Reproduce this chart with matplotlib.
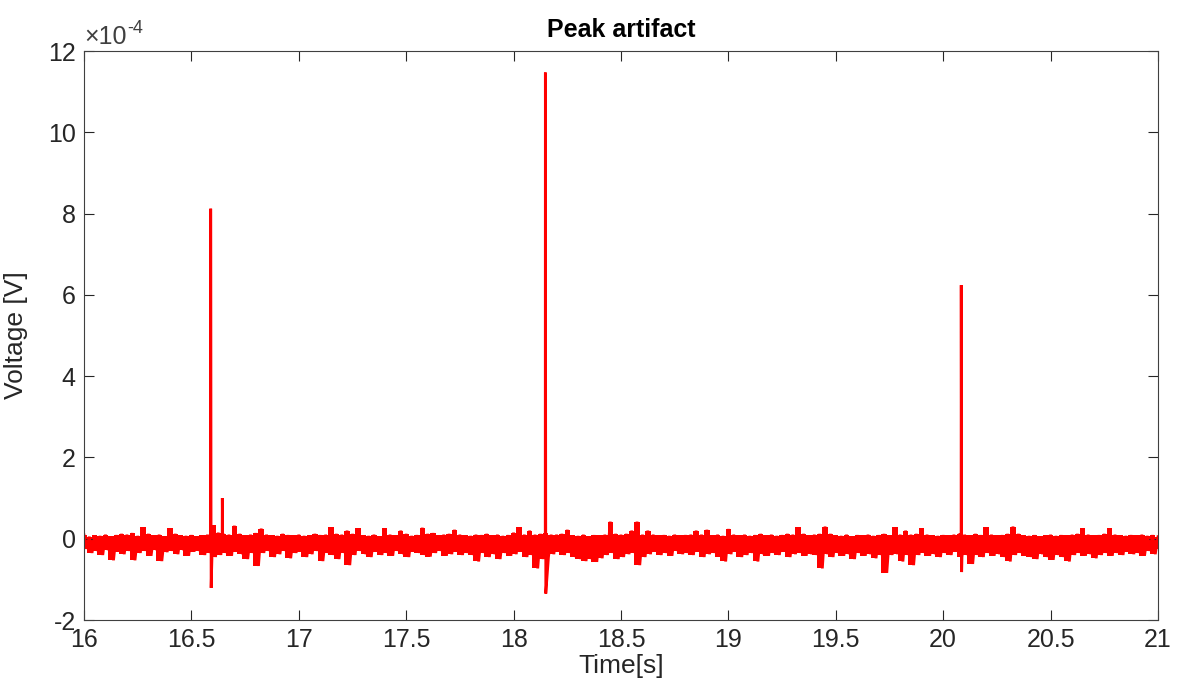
import matplotlib
matplotlib.use("Agg")
import matplotlib.pyplot as plt
import numpy as np

plt.rcParams['font.family'] = ['Liberation Sans', 'DejaVu Sans']
plt.rcParams['axes.unicode_minus'] = False

# ---- data (voltage in units of 1e-4 V) ----
t_start = 16.0
t_step = 0.025
# upper envelope of the noise band, every 25 ms from 16.0 s to 21.0 s
noise_hi = [
    0.10, 0.05, 0.08, 0.07, 0.10, 0.06, 0.09, 0.12,
    0.10, 0.14, 0.07, 0.28, 0.12, 0.08, 0.10, 0.06,
    0.26, 0.12, 0.08, 0.07, 0.09, 0.06, 0.08, 0.10,
    0.33, 0.15, 0.12, 0.10, 0.32, 0.12, 0.08, 0.10,
    0.14, 0.25, 0.10, 0.08, 0.07, 0.12, 0.09, 0.08,
    0.10, 0.07, 0.08, 0.12, 0.09, 0.10, 0.28, 0.12,
    0.10, 0.20, 0.12, 0.26, 0.08, 0.07, 0.10, 0.06,
    0.26, 0.10, 0.08, 0.20, 0.12, 0.07, 0.09, 0.27,
    0.12, 0.14, 0.08, 0.10, 0.12, 0.22, 0.10, 0.08,
    0.07, 0.10, 0.09, 0.12, 0.08, 0.10, 0.07, 0.09,
    0.15, 0.28, 0.10, 0.20, 0.10, 0.12, 0.15, 0.10,
    0.10, 0.12, 0.22, 0.08, 0.07, 0.10, 0.06, 0.09,
    0.08, 0.10, 0.42, 0.12, 0.10, 0.12, 0.20, 0.42,
    0.10, 0.20, 0.10, 0.08, 0.09, 0.07, 0.10, 0.08,
    0.09, 0.10, 0.20, 0.10, 0.22, 0.08, 0.10, 0.07,
    0.24, 0.10, 0.08, 0.10, 0.07, 0.09, 0.12, 0.08,
    0.10, 0.07, 0.09, 0.12, 0.10, 0.28, 0.12, 0.08,
    0.10, 0.12, 0.30, 0.12, 0.08, 0.07, 0.10, 0.06,
    0.09, 0.08, 0.10, 0.07, 0.09, 0.12, 0.08, 0.28,
    0.10, 0.20, 0.10, 0.12, 0.26, 0.10, 0.08, 0.07,
    0.09, 0.08, 0.10, 0.12, 0.10, 0.08, 0.12, 0.09,
    0.28, 0.10, 0.08, 0.09, 0.12, 0.30, 0.12, 0.08,
    0.07, 0.09, 0.06, 0.08, 0.10, 0.07, 0.09, 0.08,
    0.10, 0.12, 0.26, 0.10, 0.08, 0.09, 0.12, 0.26,
    0.10, 0.08, 0.07, 0.09, 0.08, 0.10, 0.07, 0.09,
    0.05,
]
# lower envelope of the noise band, same time grid (half a step later)
noise_lo = [
    -0.25, -0.35, -0.30, -0.40, -0.28, -0.53, -0.32, -0.38,
    -0.30, -0.53, -0.35, -0.30, -0.42, -0.28, -0.55, -0.33,
    -0.30, -0.38, -0.28, -0.42, -0.32, -0.30, -0.40, -0.35,
    -0.45, -0.40, -0.35, -0.42, -0.32, -0.38, -0.50, -0.35,
    -0.67, -0.35, -0.30, -0.45, -0.38, -0.30, -0.48, -0.35,
    -0.32, -0.45, -0.38, -0.30, -0.55, -0.35, -0.40, -0.50,
    -0.35, -0.65, -0.40, -0.30, -0.38, -0.45, -0.32, -0.40,
    -0.35, -0.42, -0.30, -0.38, -0.45, -0.32, -0.35, -0.40,
    -0.44, -0.35, -0.30, -0.42, -0.38, -0.32, -0.40, -0.35,
    -0.40, -0.56, -0.35, -0.45, -0.38, -0.50, -0.35, -0.42,
    -0.38, -0.32, -0.45, -0.40, -0.73, -0.50, -0.45, -0.38,
    -0.32, -0.40, -0.35, -0.45, -0.50, -0.55, -0.50, -0.57,
    -0.48, -0.40, -0.35, -0.50, -0.45, -0.38, -0.35, -0.65,
    -0.45, -0.38, -0.32, -0.40, -0.35, -0.42, -0.30, -0.38,
    -0.35, -0.40, -0.32, -0.45, -0.38, -0.35, -0.44, -0.56,
    -0.38, -0.32, -0.45, -0.40, -0.35, -0.56, -0.38, -0.42,
    -0.35, -0.40, -0.32, -0.45, -0.38, -0.35, -0.42, -0.38,
    -0.40, -0.73, -0.38, -0.45, -0.35, -0.42, -0.38, -0.50,
    -0.35, -0.42, -0.38, -0.48, -0.40, -0.84, -0.40, -0.38,
    -0.56, -0.40, -0.65, -0.40, -0.35, -0.42, -0.38, -0.45,
    -0.35, -0.40, -0.32, -0.45, -0.40, -0.62, -0.40, -0.45,
    -0.35, -0.42, -0.38, -0.45, -0.56, -0.40, -0.35, -0.42,
    -0.45, -0.50, -0.38, -0.45, -0.52, -0.40, -0.45, -0.56,
    -0.40, -0.35, -0.42, -0.38, -0.48, -0.40, -0.35, -0.42,
    -0.35, -0.40, -0.32, -0.38, -0.35, -0.42, -0.30, -0.38,
    -0.25,
]
# artifact peaks
spike_times = [16.590, 16.644, 18.148, 20.084]
spike_peaks = [8.12, 1.00, 11.47, 6.24]
spike_troughs = [-1.21, -0.25, -1.35, -0.82]

x_ticks = [16, 16.5, 17, 17.5, 18, 18.5, 19, 19.5, 20, 20.5, 21]
x_tick_labels = ["16", "16.5", "17", "17.5", "18", "18.5", "19", "19.5", "20", "20.5", "21"]
y_ticks = [-2, 0, 2, 4, 6, 8, 10, 12]

red = (1, 0, 0)

# ---- build the trace ----
n = len(noise_hi)
t_hi = t_start + t_step * np.arange(n)
t_lo = t_hi + t_step / 2
pts = []
for a, b, c, d in zip(t_hi, noise_hi, t_lo, noise_lo):
    pts.append((a, b))
    if c <= 21.0:
        pts.append((c, d))
for st, sp, tr in zip(spike_times, spike_peaks, spike_troughs):
    pts.append((st - 0.0005, 0.05))
    pts.append((st, sp))
    pts.append((st + 0.002, tr))
pts.sort(key=lambda p: p[0])
tt = np.array([p[0] for p in pts])
vv = np.array([p[1] for p in pts])

# ---- plot ----
fig = plt.figure(figsize=(11.81, 6.95), dpi=100)
ax = fig.add_axes([0.0711, 0.1079, 0.9094, 0.8187])
# solid body of the noise band between the two envelopes
ax.fill_between(t_hi, noise_lo, noise_hi, step='mid', color=red, lw=0)
ax.plot(tt, vv, color=red, lw=2.0, solid_joinstyle='miter')

txt = '#262626'
ax.set_xlim(16, 21)
ax.set_ylim(-2, 12)
ax.set_xticks(x_ticks)
ax.set_xticklabels(x_tick_labels)
ax.set_yticks(y_ticks)
ax.tick_params(direction='in', length=7, width=0.8, colors=txt, labelsize=18,
               top=True, right=True, pad=6)
for s in ax.spines.values():
    s.set_color('#404040')
    s.set_linewidth(0.8)

ax.set_title('Peak artifact', fontsize=18, fontweight='bold', color='black', pad=10)
ax.set_xlabel('Time[s]', fontsize=19, color=txt, labelpad=1)
ax.set_ylabel('Voltage [V]', fontsize=19, color=txt, labelpad=14)
ax.text(0.0, 1.004, '\u00d710', transform=ax.transAxes, ha='left', va='bottom',
        fontsize=18, color='#404040')
ax.text(0.0405, 1.024, '-4', transform=ax.transAxes, ha='left', va='bottom',
        fontsize=13, color='#404040')

fig.savefig('out.png', dpi=100)
